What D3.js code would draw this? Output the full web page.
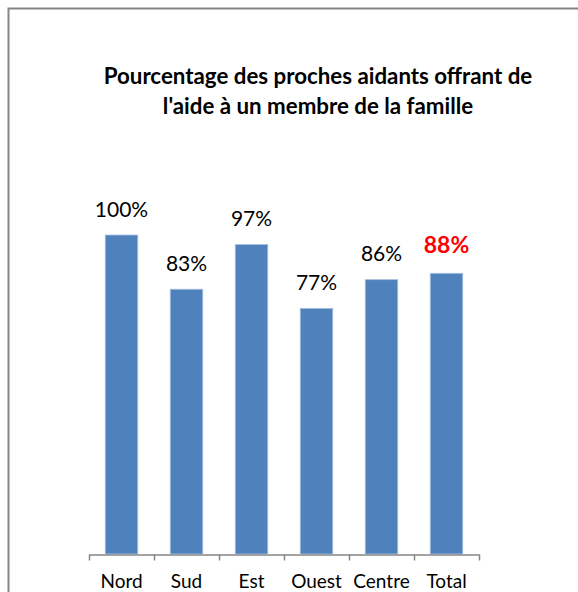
<!DOCTYPE html>
<html>
<head>
<meta charset="utf-8">
<script src="https://cdn.jsdelivr.net/npm/d3@7"></script>
<style>
    body { margin: 0; background: #fff; }
    text { font-family: Lato, "Open Sans", sans-serif; }
</style>
</head>
<body>
<div id="chart"></div>
<script>
// chart values
const regions = ["Nord", "Sud", "Est", "Ouest", "Centre", "Total"];
const shares = [1.00, 0.83, 0.97, 0.77, 0.86, 0.88];
const shareLabels = ["100%", "83%", "97%", "77%", "86%", "88%"];
const titleLines = ["Pourcentage des proches aidants offrant de", "l'aide à un membre de la famille"];

const width = 578;
const height = 592;

const plot = { left: 89, right: 479, top: 235, bottom: 554 };

const svg = d3.select("#chart")
    .append("svg")
    .attr("width", width)
    .attr("height", height);

svg.append("rect")
    .attr("width", width)
    .attr("height", height)
    .attr("fill", "#fff");

// outer frame of the chart area (right/bottom edges run off the picture)
svg.append("path")
    .attr("d", `M8.5,${height + 2} V8.5 H${width + 2}`)
    .attr("fill", "none")
    .attr("stroke", "#868686")
    .attr("stroke-width", 2);

// title
svg.append("g")
    .selectAll("text")
    .data(titleLines)
    .enter()
    .append("text")
    .attr("x", 318)
    .attr("y", (d, i) => 84 + i * 29.5)
    .attr("text-anchor", "middle")
    .attr("font-size", 22.3)
    .attr("font-weight", "bold")
    .attr("fill", "#000")
    .text(d => d);

// scales
const xScale = d3.scaleBand()
    .domain(regions)
    .range([plot.left, plot.right])
    .paddingInner(0.5)
    .paddingOuter(0.25);

const yScale = d3.scaleLinear()
    .domain([0, 1])
    .range([plot.bottom, plot.top]);

const data = regions.map((r, i) => ({ region: r, value: shares[i], label: shareLabels[i] }));

// bars
svg.append("g")
    .selectAll("rect")
    .data(data)
    .enter()
    .append("rect")
    .attr("x", d => xScale(d.region))
    .attr("y", d => yScale(d.value))
    .attr("width", xScale.bandwidth())
    .attr("height", d => yScale(0) - yScale(d.value))
    .attr("fill", "#4f81bd")
    .attr("stroke", "#a7c0de")
    .attr("stroke-width", 0.8);

// data labels - total in red bold
svg.append("g")
    .selectAll("text")
    .data(data)
    .enter()
    .append("text")
    .attr("x", d => xScale(d.region) + xScale.bandwidth() / 2)
    .attr("y", d => yScale(d.value) - (d.region === "Total" ? 20 : 18.5))
    .attr("text-anchor", "middle")
    .attr("font-size", d => d.region === "Total" ? 23 : 21)
    .attr("font-weight", d => d.region === "Total" ? "bold" : "normal")
    .attr("fill", d => d.region === "Total" ? "#ff0000" : "#000")
    .text(d => d.label);

// category axis: ticks sit on the boundaries between categories
const boundaryScale = d3.scaleLinear()
    .domain([0, regions.length])
    .range([plot.left, plot.right]);

const boundaryAxis = svg.append("g")
    .attr("transform", `translate(0, ${plot.bottom + 0.5})`)
    .call(d3.axisBottom(boundaryScale)
        .tickValues(d3.range(regions.length + 1))
        .tickSize(6)
        .tickSizeOuter(0)
        .tickFormat(""));

boundaryAxis.selectAll("path, line")
    .attr("stroke", "#868686")
    .attr("stroke-width", 1.5);

const labelAxis = svg.append("g")
    .attr("transform", `translate(0, ${plot.bottom})`)
    .call(d3.axisBottom(xScale).tickSize(0).tickPadding(0));

labelAxis.select(".domain").remove();
labelAxis.selectAll("text")
    .attr("y", 34)
    .attr("dy", null)
    .attr("font-size", 19)
    .attr("font-family", "Lato, 'Open Sans', sans-serif")
    .attr("fill", "#000");
</script>
</body>
</html>
